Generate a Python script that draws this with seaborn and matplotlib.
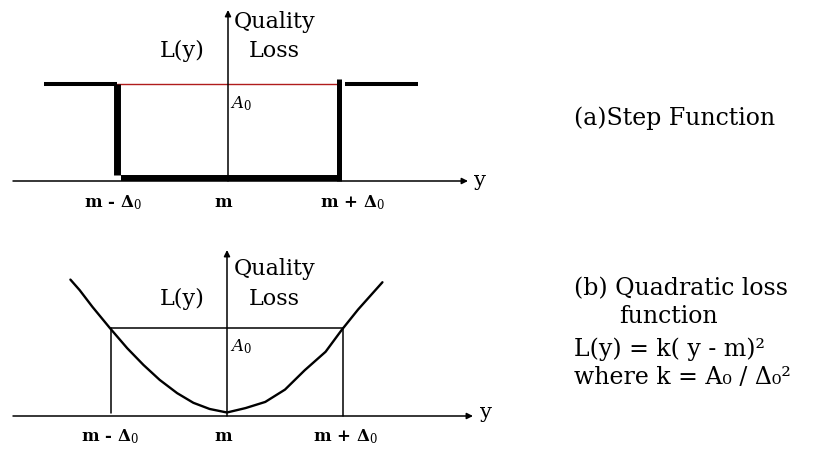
import matplotlib
matplotlib.use("Agg")
import matplotlib.pyplot as plt
import seaborn as sns
import pandas as pd

sns.set_style("white")
plt.rcParams["font.family"] = ["DejaVu Serif", "DejaVu Sans"]
plt.rcParams["mathtext.fontset"] = "dejavuserif"
plt.rcParams["text.color"] = "black"

W, H = 833, 449

# Loss levels in units of A0 and deviations in units of Delta0
A0 = 1.0
DELTA0 = 1.0
tick_labels = ["m - Δ$_0$", "m", "m + Δ$_0$"]

# (a) step function: flat loss A0 outside the tolerance band, zero inside
step_outer_left = [-1.66, -1.0]
step_outer_right = [1.05, 1.71]

# (b) quadratic loss curve, traced point by point
quad_dev = [-1.35, -1.27, -1.16, -1.01, -0.86, -0.72, -0.58, -0.43, -0.29, -0.15,
            -0.02, 0.0, 0.16, 0.33, 0.50, 0.67, 0.85, 0.99, 1.13, 1.34]
quad_loss = [1.55, 1.43, 1.24, 1.00, 0.77, 0.58, 0.41, 0.26, 0.15, 0.08,
             0.045, 0.04, 0.09, 0.16, 0.30, 0.52, 0.73, 0.98, 1.21, 1.52]

fig = plt.figure(figsize=(W / 100, H / 100), dpi=100)


def fpos(x, y):
    return x / W, 1 - y / H


def axis_arrows(ax, x0, x1, ytop):
    ap = dict(arrowstyle="-|>", lw=1.1, color="black", mutation_scale=9,
              shrinkA=0, shrinkB=0)
    ax.annotate("", xy=(x1, 0), xytext=(x0, 0), arrowprops=ap)
    ax.annotate("", xy=(0, ytop), xytext=(0, 0), arrowprops=ap)


# ---------- (a) step function ----------
ax1 = fig.add_axes([0, 1 - 225 / H, 520 / W, 225 / H])
ax1.set_xlim(-228 / 111, 292 / 111)
ax1.set_ylim(-44 / 97, 181 / 97)
ax1.axis("off")
axis_arrows(ax1, -215 / 111, 240 / 111, 171 / 97)

ax1.plot(step_outer_left, [A0, A0], color="black", lw=2.9, solid_capstyle="butt")
ax1.plot(step_outer_right, [A0, A0], color="black", lw=2.9, solid_capstyle="butt")
ax1.plot([-DELTA0, DELTA0], [A0, A0], color="#b01c1c", lw=1.0)
ax1.plot([-DELTA0, -DELTA0], [0.06, A0], color="black", lw=5.0, solid_capstyle="butt")
ax1.plot([DELTA0, DELTA0], [0.0, A0 + 0.05], color="black", lw=3.6, solid_capstyle="butt")
ax1.plot([-DELTA0 + 0.04, DELTA0], [0.027, 0.027], color="black", lw=4.3,
         solid_capstyle="butt")

# ---------- (b) quadratic loss ----------
ax2 = fig.add_axes([0, 0, 520 / W, 219 / H])
ax2.set_xlim(-227 / 116, 293 / 116)
ax2.set_ylim(-33 / 88, 186 / 88)
ax2.axis("off")
axis_arrows(ax2, -214 / 116, 246 / 116, 166 / 88)

curve = pd.DataFrame({"dev": quad_dev, "loss": quad_loss})
sns.lineplot(data=curve, x="dev", y="loss", ax=ax2, color="black", lw=1.7,
             sort=False, estimator=None)
ax2.plot([-DELTA0, DELTA0], [A0, A0], color="black", lw=1.1)
ax2.plot([-DELTA0, -DELTA0], [0.03, A0], color="black", lw=1.1)
ax2.plot([DELTA0, DELTA0], [0.0, A0], color="black", lw=1.1)

# ---------- labels ----------
for yq, yl in ((28, 57), (275, 305)):
    fig.text(*fpos(234, yq), "Quality", fontsize=16, va="baseline")
    fig.text(*fpos(249, yl), "Loss", fontsize=16, va="baseline")
    fig.text(*fpos(160, yl), "L(y)", fontsize=16, va="baseline")

fig.text(*fpos(230, 108), "$A_0$", fontsize=12, va="baseline")
fig.text(*fpos(230, 351), "$A_0$", fontsize=12, va="baseline")

for (xs, yb) in (([113, 223, 352], 207), ([110, 223, 345], 441)):
    for x, lab in zip(xs, tick_labels):
        fig.text(*fpos(x, yb), lab, fontsize=12, fontweight="bold", ha="center",
                 va="baseline")

fig.text(*fpos(474, 181), "y", fontsize=15, va="center")
fig.text(*fpos(480, 413), "y", fontsize=15, va="center")

fig.text(*fpos(574, 125), "(a)Step Function", fontsize=17, va="baseline")
fig.text(*fpos(574, 295), "(b) Quadratic loss", fontsize=17, va="baseline")
fig.text(*fpos(619, 323), "function", fontsize=17, va="baseline")
fig.text(*fpos(574, 356), "L(y) = k( y - m)²", fontsize=17, va="baseline")
fig.text(*fpos(574, 384), "where k = A₀ / Δ₀²", fontsize=17, va="baseline")

fig.savefig("out.png", dpi=100)
